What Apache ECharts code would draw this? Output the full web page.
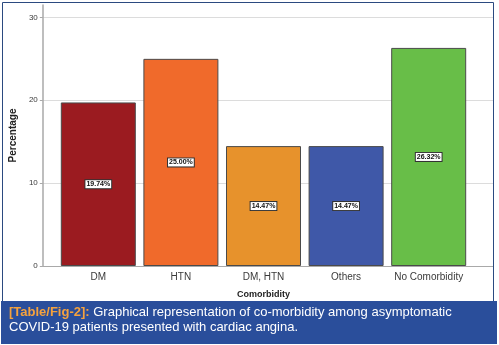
<!DOCTYPE html>
<html>
<head>
<meta charset="utf-8">
<script src="https://cdn.jsdelivr.net/npm/echarts@6/dist/echarts.min.js"></script>
<style>
  html, body { margin: 0; padding: 0; background: #fff; }
  #chart { width: 499px; height: 345px; }
</style>
</head>
<body>
<div id="chart"></div>
<script>
// Comorbidity categories and their share of patients (%)
const categories = ['DM', 'HTN', 'DM, HTN', 'Others', 'No Comorbidity'];
const percentages = [19.74, 25.00, 14.47, 14.47, 26.32];
const barColors = ['#9b1b20', '#f06a2b', '#e7922c', '#3f58a8', '#68be48'];
const yTicks = [0, 10, 20, 30];

const captionTag = '[Table/Fig-2]:';
const captionLine1 = ' Graphical representation of co-morbidity among asymptomatic';
const captionLine2 = 'COVID-19 patients presented with cardiac angina.';

const chart = echarts.init(document.getElementById('chart'), null, { renderer: 'canvas' });

const Y_MAX = 31.5;
const axisGray = '#a9a9a9';
const textGray = '#3a3a3a';
const FONT = 'Liberation Sans, Arial, sans-serif';

chart.setOption({
  animation: false,
  backgroundColor: '#fff',
  grid: [
    // frame grid: axis lines and gridlines span the whole plot
    { left: 34, right: 6, top: 5, bottom: 79 },
    // bar grid: categories sit inset from the axis ends
    { left: 57, right: 29, top: 5, bottom: 79 }
  ],
  xAxis: [
    {
      gridIndex: 0, type: 'value', min: 0, max: 1,
      axisLine: { show: true, lineStyle: { color: axisGray, width: 1 } },
      axisTick: { show: false }, axisLabel: { show: false }, splitLine: { show: false }
    },
    {
      gridIndex: 1, type: 'category', data: categories,
      axisLine: { show: false }, axisTick: { show: false },
      axisLabel: { color: textGray, fontSize: 10, fontFamily: FONT, margin: 6, interval: 0 },
      name: 'Comorbidity', nameLocation: 'middle', nameGap: 24,
      nameTextStyle: { color: '#222', fontSize: 9, fontWeight: 'bold', fontFamily: FONT }
    }
  ],
  yAxis: [
    {
      gridIndex: 0, type: 'value', min: 0, max: Y_MAX, interval: 10,
      axisLine: { show: true, lineStyle: { color: axisGray, width: 1.5 } },
      axisTick: { show: true, length: 3, lineStyle: { color: axisGray } },
      axisLabel: {
        color: textGray, fontSize: 8, margin: 5, showMaxLabel: false, fontFamily: FONT,
        formatter: v => (yTicks.indexOf(v) >= 0 ? String(v) : '')
      },
      splitLine: { show: true, showMinLine: false, showMaxLine: false, lineStyle: { color: '#dcdcdc', width: 1 } },
      name: 'Percentage', nameLocation: 'middle', nameGap: 16, nameRotate: 90,
      nameTextStyle: { color: '#222', fontSize: 10, fontWeight: 'bold', fontFamily: FONT }
    },
    {
      gridIndex: 1, type: 'value', min: 0, max: Y_MAX, interval: 10, show: false,
      splitLine: { show: false }
    }
  ],
  series: [{
    type: 'bar',
    xAxisIndex: 1, yAxisIndex: 1,
    barWidth: 75,
    data: percentages.map((v, i) => ({ value: v, itemStyle: { color: barColors[i] } })),
    itemStyle: { borderColor: '#4a4a4a', borderWidth: 1 },
    label: {
      show: true, position: 'inside',
      formatter: p => p.value.toFixed(2) + '%',
      color: '#111', fontSize: 7, fontWeight: 'bold', fontFamily: FONT,
      backgroundColor: '#fff', borderColor: '#333', borderWidth: 1,
      padding: [1, 1, 0, 1]
    }
  }],
  graphic: [
    // outer frame around the chart
    {
      type: 'rect', z: 100, silent: true,
      shape: { x: 2.5, y: 2.5, width: 491, height: 299 },
      style: { fill: 'none', stroke: '#2b4a80', lineWidth: 1 }
    },
    // caption band
    {
      type: 'rect', z: 101, silent: true,
      shape: { x: 1, y: 301, width: 496, height: 43 },
      style: { fill: '#2a4e9b' }
    },
    {
      type: 'text', z: 102, silent: true,
      left: 9, top: 306,
      style: {
        text: '{tag|' + captionTag + '}{body|' + captionLine1 + '}\n{body|' + captionLine2 + '}',
        rich: {
          tag: { fill: '#f5a23e', fontSize: 13, fontWeight: 'bold', fontFamily: FONT, lineHeight: 15 },
          body: { fill: '#ffffff', fontSize: 13, fontFamily: FONT, lineHeight: 15 }
        }
      }
    }
  ]
});
</script>
</body>
</html>
